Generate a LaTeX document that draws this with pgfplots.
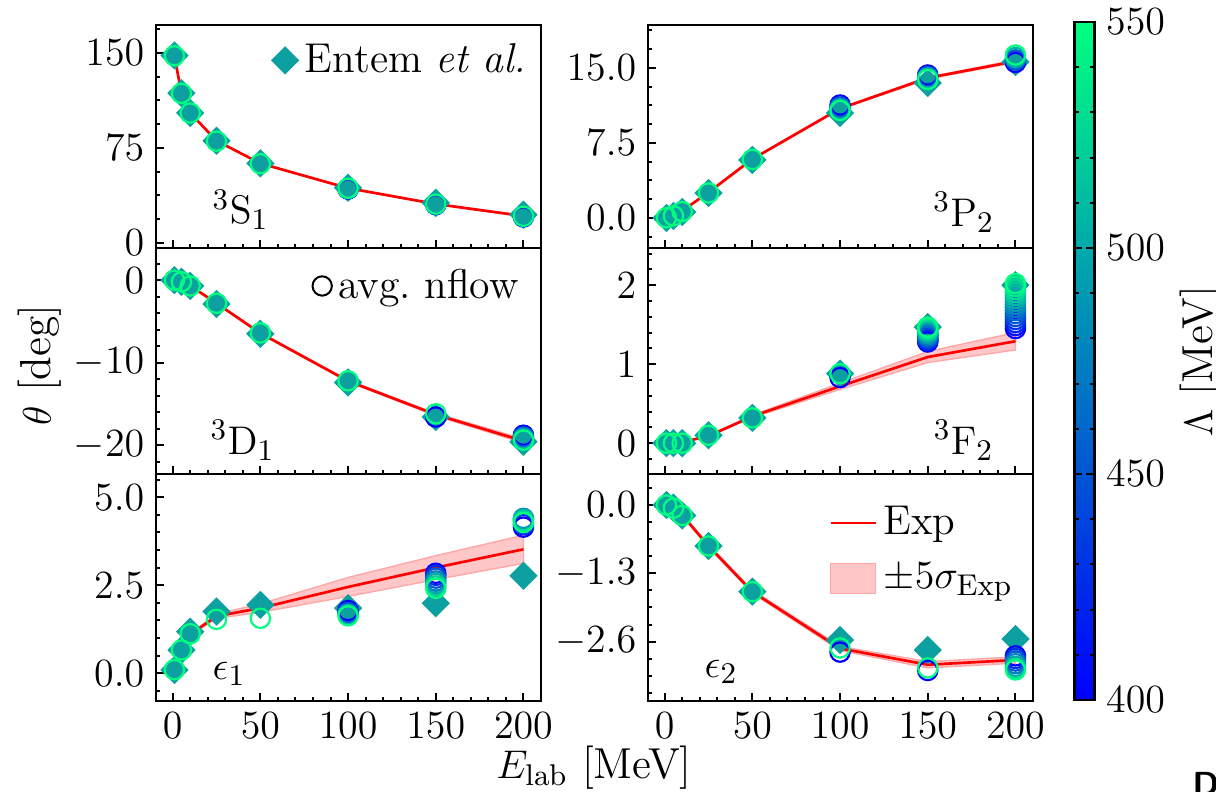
\documentclass[border=0pt]{standalone}
\usepackage{pgfplots}
\pgfplotsset{compat=1.18}
\definecolor{entemc}{RGB}{12,160,160}
\tikzset{plab/.style={font=\fontsize{12.5}{14}\selectfont}}
\pgfplotsset{
  panel/.style={
    scale only axis, width=115.5pt,
    xmin=-9.5, xmax=210,
    xtick={0,50,100,150,200}, minor xtick={10,20,...,200},
    xtick pos=bottom, ytick pos=left,
    tick align=inside,
    major tick length=2.4pt, minor tick length=1.3pt,
    every tick/.style={black, line width=0.6pt},
    axis line style={line width=0.8pt},
    tick label style={font=\fontsize{11.5}{13}\selectfont},
    colormap={winter}{rgb255=(0,0,255) rgb255=(0,255,128)},
    point meta min=400, point meta max=550,
    legend style={draw=none, fill=none, font=\fontsize{12.5}{14}\selectfont, inner sep=1pt},
    legend cell align=left,
  },
  nflow/.style={scatter, only marks, mark=o, mark size=2.9pt, line width=0.65pt,
    point meta=explicit, scatter/use mapped color={draw=mapped color}, forget plot},
  entem/.style={only marks, mark=square*, mark size=2.8pt,
    mark options={rotate=45, fill=entemc, draw=entemc}, forget plot},
  expline/.style={red, line width=0.8pt, forget plot},
  band/.style={fill=red!22, draw=red!35, line width=0.4pt, forget plot},
}
\begin{document}
\begin{tikzpicture}
\useasboundingbox (0,0) rectangle (364.8pt,237.6pt);

% ---------------- 3S1 ----------------
\begin{axis}[panel, at={(46.8pt,163.2pt)}, anchor=south west, height=66.9pt,
  ymin=-4, ymax=172, ytick={0,75,150},
  minor ytick={18.75,37.5,56.25,93.75,112.5,131.25,168.75},
  xticklabels={},
  legend style={at={(0.99,0.965)}, anchor=north east}]
\addlegendimage{only marks, mark=square*, mark size=2.8pt, mark options={rotate=45, fill=entemc, draw=entemc}}
\addlegendentry{Entem \textit{et al.}}
\addplot[band] coordinates {(1,147.45) (5,117.88) (10,102.31) (25,80.33) (50,62.47) (100,42.93) (150,30.37) (200,20.82)
  (200,21.62) (150,31.07) (100,43.53) (50,63.07) (25,80.93) (10,102.91) (5,118.48) (1,148.05) (1,147.45)};
\addplot[expline] coordinates {(1,147.75) (5,118.18) (10,102.61) (25,80.63) (50,62.77) (100,43.23) (150,30.72) (200,21.22)};
\addplot[entem] coordinates {(1,147.9) (5,118.2) (10,102.6) (25,80.6) (50,62.8) (100,43.5) (150,31.6) (200,22.3)};
\addplot[nflow] table[x=x,y=y,meta=l] {
x y l
1 147.7 550
5 118.0 550
10 102.5 550
25 80.3 550
50 62.5 550
100 42.5 400
100 42.8 450
100 43.0 500
100 43.2 550
150 30.2 400
150 30.6 550
200 20.5 400
200 21.0 550
};
\node[plab] at (rel axis cs:0.22,0.17) {${}^3\mathrm{S}_1$};
\end{axis}

% ---------------- 3P2 ----------------
\begin{axis}[panel, at={(194.4pt,163.2pt)}, anchor=south west, height=66.9pt,
  ymin=-3, ymax=19.3, ytick={0,7.5,15},
  minor ytick={-1.875,1.875,3.75,5.625,9.375,11.25,13.125,16.875,18.75},
  yticklabel style={/pgf/number format/.cd, fixed, fixed zerofill, precision=1},
  xticklabels={},
  colorbar,
  colorbar style={
    at={(parent axis.north east)}, anchor=north west, xshift=3.9pt, yshift=0.9pt,
    scale only axis, width=6pt, height=203.4pt,
    ytick={400,450,500,550}, minor ytick={410,420,430,440,460,470,480,490,510,520,530,540},
    tick align=inside, major tick length=2.4pt, minor tick length=1.3pt,
    every tick/.style={black, line width=0.6pt},
    axis line style={line width=0.8pt},
    yticklabel style={font=\fontsize{12.5}{14}\selectfont, /pgf/number format/.cd, fixed, 1000 sep={}},
    ylabel={$\Lambda$ [MeV]},
    ylabel style={font=\fontsize{13}{15}\selectfont, at={(axis description cs:6.35,0.5)}, anchor=center, rotate=0},
  }]
\addplot[band] coordinates {(1,0.01) (5,0.23) (10,0.68) (25,2.51) (50,5.83) (100,10.86) (150,13.9) (200,15.55)
  (200,15.79) (150,14.1) (100,11.02) (50,5.95) (25,2.61) (10,0.74) (5,0.27) (1,0.03) (1,0.01)};
\addplot[expline] coordinates {(1,0.02) (5,0.25) (10,0.71) (25,2.56) (50,5.89) (100,10.94) (150,14.0) (200,15.67)};
\addplot[entem] coordinates {(1,0.0) (5,0.2) (10,0.6) (25,2.5) (50,5.8) (100,10.5) (150,13.5) (200,15.6)};
\addplot[nflow] table[x=x,y=y,meta=l] {
x y l
1 0.02 550
5 0.22 550
10 0.65 550
25 2.5 550
50 5.85 550
100 11.3 400
100 11.1 450
100 10.9 500
100 10.75 550
150 14.3 400
150 14.15 450
150 14.0 500
150 13.85 550
200 15.55 400
200 15.8 450
200 16.05 500
200 16.3 550
};
\node[plab] at (rel axis cs:0.82,0.16) {${}^3\mathrm{P}_2$};
\end{axis}

% ---------------- 3D1 ----------------
\begin{axis}[panel, at={(46.8pt,95.4pt)}, anchor=south west, height=67.8pt,
  ymin=-23.5, ymax=3.9, ytick={-20,-10,0},
  minor ytick={-22,-18,-16,-14,-12,-8,-6,-4,-2,2},
  xticklabels={},
  legend style={at={(0.97,0.955)}, anchor=north east}]
\addlegendimage{only marks, mark=o, mark size=2.9pt, black, line width=0.6pt}
\addlegendentry{avg.\ nflow}
\addplot[band] coordinates {(1,-0.04) (5,-0.22) (10,-0.72) (25,-2.85) (50,-6.5) (100,-12.33) (150,-16.45) (200,-19.75)
  (200,-19.25) (150,-16.15) (100,-12.13) (50,-6.36) (25,-2.75) (10,-0.64) (5,-0.14) (1,0.03) (1,-0.04)};
\addplot[expline] coordinates {(1,-0.005) (5,-0.18) (10,-0.68) (25,-2.8) (50,-6.43) (100,-12.23) (150,-16.3) (200,-19.5)};
\addplot[entem] coordinates {(1,0.0) (5,-0.2) (10,-0.7) (25,-2.9) (50,-6.5) (100,-12.4) (150,-16.6) (200,-19.6)};
\addplot[nflow] table[x=x,y=y,meta=l] {
x y l
1 0.0 550
5 -0.2 550
10 -0.7 550
25 -2.8 550
50 -6.4 550
100 -12.2 550
150 -16.6 400
150 -16.2 550
200 -18.8 400
200 -19.0 450
200 -19.2 500
200 -19.4 550
};
\node[plab] at (rel axis cs:0.225,0.15) {${}^3\mathrm{D}_1$};
\end{axis}

% ---------------- 3F2 ----------------
\begin{axis}[panel, at={(194.4pt,95.4pt)}, anchor=south west, height=67.8pt,
  ymin=-0.39, ymax=2.47, ytick={0,1,2},
  minor ytick={-0.2,0.2,0.4,0.6,0.8,1.2,1.4,1.6,1.8,2.2,2.4},
  xticklabels={}]
\addplot[band] coordinates {(1,-0.005) (5,-0.003) (10,0.007) (25,0.085) (50,0.325) (100,0.68) (150,1.02) (200,1.18)
  (200,1.40) (150,1.16) (100,0.76) (50,0.355) (25,0.095) (10,0.017) (5,0.007) (1,0.005) (1,-0.005)};
\addplot[expline] coordinates {(1,0) (5,0.002) (10,0.012) (25,0.09) (50,0.34) (100,0.72) (150,1.09) (200,1.29)};
\addplot[entem] coordinates {(1,0) (5,0) (10,0) (25,0.1) (50,0.32) (100,0.88) (150,1.47) (200,2.0)};
\addplot[nflow] table[x=x,y=y,meta=l] {
x y l
1 0 550
5 0 550
10 0 550
25 0.1 550
50 0.32 550
100 0.83 400
100 0.88 550
150 1.280 400
150 1.293 410
150 1.305 420
150 1.318 430
150 1.331 440
150 1.343 450
150 1.356 460
150 1.369 470
150 1.381 480
150 1.394 490
150 1.407 500
150 1.419 510
150 1.432 520
150 1.445 530
150 1.457 540
150 1.470 550
200 1.450 400
200 1.488 410
200 1.526 420
200 1.564 430
200 1.602 440
200 1.640 450
200 1.678 460
200 1.716 470
200 1.754 480
200 1.792 490
200 1.830 500
200 1.868 510
200 1.906 520
200 1.944 530
200 1.982 540
200 2.020 550
};
\node[plab] at (rel axis cs:0.82,0.15) {${}^3\mathrm{F}_2$};
\end{axis}

% ---------------- eps1 ----------------
\begin{axis}[panel, at={(46.8pt,27.3pt)}, anchor=south west, height=68.1pt,
  ymin=-0.79, ymax=5.66, ytick={0,2.5,5},
  minor ytick={-0.5,0.5,1,1.5,2,3,3.5,4,4.5,5.5},
  yticklabel style={/pgf/number format/.cd, fixed, fixed zerofill, precision=1}]
\addplot[band] coordinates {(1,0.09) (5,0.63) (10,1.07) (25,1.56) (50,1.73) (100,2.18) (150,2.66) (200,3.12)
  (200,3.92) (150,3.34) (100,2.72) (50,1.97) (25,1.68) (10,1.13) (5,0.67) (1,0.11) (1,0.09)};
\addplot[expline] coordinates {(1,0.1) (5,0.65) (10,1.1) (25,1.62) (50,1.85) (100,2.45) (150,3.0) (200,3.52)};
\addplot[entem] coordinates {(1,0.09) (5,0.66) (10,1.18) (25,1.75) (50,1.94) (100,1.85) (150,1.99) (200,2.77)};
\addplot[nflow] table[x=x,y=y,meta=l] {
x y l
1 0.1 550
5 0.66 550
10 1.12 550
25 1.53 550
50 1.56 550
100 1.78 400
100 1.72 450
100 1.67 500
100 1.63 550
150 2.84 400
150 2.78 425
150 2.70 450
150 2.62 475
150 2.55 500
150 2.48 525
150 2.41 550
200 4.15 400
200 4.22 425
200 4.35 450
200 4.40 475
200 4.38 500
200 4.33 525
200 4.28 550
};
\node[plab] at (rel axis cs:0.19,0.12) {$\epsilon_1$};
\end{axis}

% ---------------- eps2 ----------------
\begin{axis}[panel, at={(194.4pt,27.3pt)}, anchor=south west, height=68.1pt,
  ymin=-3.73, ymax=0.59, ytick={-2.6,-1.3,0},
  minor ytick={0.325,-0.325,-0.65,-0.975,-1.625,-1.95,-2.275,-2.925,-3.25,-3.575},
  yticklabel style={/pgf/number format/.cd, fixed, fixed zerofill, precision=1},
  legend style={at={(0.975,0.905)}, anchor=north east, row sep=3pt}]
\addlegendimage{legend image code/.code={\draw[red, line width=0.8pt] (0pt,0pt) -- (13.5pt,0pt);}}
\addlegendentry{Exp}
\addlegendimage{legend image code/.code={\draw[fill=red!22, draw=red!35, line width=0.4pt] (0pt,-4.5pt) rectangle (13.5pt,4.5pt);}}
\addlegendentry{$\pm5\sigma_{\mathrm{Exp}}$}
\addplot[band] coordinates {(1,-0.02) (5,-0.07) (10,-0.21) (25,-0.81) (50,-1.68) (100,-2.77) (150,-3.1) (200,-3.01)
  (200,-2.89) (150,-2.98) (100,-2.69) (50,-1.62) (25,-0.75) (10,-0.17) (5,-0.03) (1,0.02) (1,-0.02)};
\addplot[expline] coordinates {(1,0) (5,-0.05) (10,-0.19) (25,-0.78) (50,-1.65) (100,-2.73) (150,-3.04) (200,-2.95)};
\addplot[entem] coordinates {(1,0) (5,-0.05) (10,-0.2) (25,-0.78) (50,-1.65) (100,-2.57) (150,-2.76) (200,-2.55)};
\addplot[nflow] table[x=x,y=y,meta=l] {
x y l
1 0 550
5 -0.06 550
10 -0.2 550
25 -0.78 550
50 -1.65 550
100 -2.80 400
100 -2.72 550
150 -3.15 400
150 -3.10 550
200 -2.87 400
200 -2.92 425
200 -2.97 450
200 -3.02 475
200 -3.07 500
200 -3.11 525
200 -3.14 550
};
\node[plab] at (rel axis cs:0.19,0.13) {$\epsilon_2$};
\end{axis}

% global labels
\node[rotate=90, font=\fontsize{13}{15}\selectfont] at (12pt,128.1pt) {$\theta$ [deg]};
\node[font=\fontsize{13}{15}\selectfont] at (178.2pt,7.4pt) {$E_{\mathrm{lab}}$ [MeV]};
\node[anchor=north west, inner sep=0pt, font=\fontsize{10}{12}\selectfont\sffamily\bfseries] at (357.6pt,6.1pt) {D};
\end{tikzpicture}
\end{document}
